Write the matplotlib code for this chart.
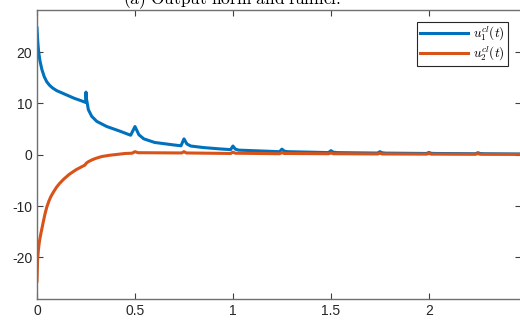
import matplotlib
matplotlib.use("Agg")
import matplotlib.pyplot as plt

plt.rcParams["mathtext.fontset"] = "cm"

# values
t1 = [0, 0.004, 0.008, 0.015, 0.025, 0.037, 0.05, 0.065, 0.08, 0.1, 0.13, 0.16, 0.19, 0.22,
      0.248, 0.25, 0.252, 0.262, 0.279, 0.305,
      0.356, 0.423, 0.478, 0.5, 0.52, 0.545, 0.6, 0.7, 0.735, 0.75, 0.765, 0.785,
      0.85, 0.93, 0.988, 1.0, 1.012, 1.03, 1.1, 1.238, 1.25, 1.262, 1.28, 1.4, 1.488, 1.5, 1.512,
      1.53, 1.738, 1.75, 1.762, 1.78, 1.988, 2.0, 2.012, 2.03, 2.238, 2.25, 2.262, 2.28, 2.47]
u1 = [24.7, 22.0, 20.2, 18.3, 16.6, 15.2, 14.2, 13.5, 13.0, 12.5, 12.0, 11.5, 11.0, 10.6,
      10.2, 12.2, 11.0, 8.8, 7.5, 6.5,
      5.5, 4.6, 3.8, 5.5, 3.9, 3.1, 2.4, 1.9, 1.75, 3.1, 2.1, 1.7,
      1.4, 1.15, 1.0, 1.7, 1.1, 0.9, 0.8, 0.6, 1.1, 0.7, 0.6, 0.5, 0.42, 0.8, 0.5,
      0.42, 0.33, 0.6, 0.38, 0.32, 0.25, 0.45, 0.28, 0.25, 0.2, 0.4, 0.24, 0.2, 0.15]

t2 = [0, 0.003, 0.007, 0.011, 0.015, 0.02, 0.025, 0.033, 0.041, 0.05, 0.06, 0.07, 0.085, 0.1,
      0.115, 0.135, 0.165, 0.2, 0.245, 0.25, 0.26, 0.28, 0.3, 0.33, 0.37,
      0.45, 0.485, 0.5, 0.515, 0.738, 0.75, 0.762, 0.988, 1.0, 1.012, 1.238, 1.25, 1.262, 1.488,
      1.5, 1.512, 1.738, 1.75, 1.762, 1.988, 2.0, 2.012, 2.238, 2.25, 2.262, 2.47]
u2 = [-24.6, -20.5, -18.6, -17.3, -16.3, -15.3, -14.4, -12.9, -11.5, -10.2, -9.1, -8.2, -7.2, -6.3,
      -5.6, -4.8, -3.8, -2.9, -2.0, -1.7, -1.4, -1.0, -0.7, -0.35, -0.1,
      0.25, 0.3, 0.6, 0.4, 0.35, 0.6, 0.35, 0.25, 0.5, 0.3, 0.2, 0.4, 0.25, 0.2,
      0.35, 0.2, 0.15, 0.3, 0.15, 0.12, 0.25, 0.12, 0.1, 0.22, 0.1, 0.08]

xticks = [0, 0.5, 1, 1.5, 2]
yticks = [-20, -10, 0, 10, 20]

fig = plt.figure(figsize=(5.2, 3.26), dpi=100)
ax = fig.add_axes([37/520, 1 - 299/326, 484/520, 289/326])

ax.plot(t1, u1, color="#0072BD", lw=2.2, label=r"$u_1^{cl}(t)$")
ax.plot(t2, u2, color="#D95319", lw=2.2, label=r"$u_2^{cl}(t)$")

ax.set_xlim(0, 2.47)
ax.set_ylim(-28.1, 28.2)
ax.set_xticks(xticks)
ax.set_xticklabels([f"{v:g}" for v in xticks])
ax.set_yticks(yticks)
ax.set_yticklabels([f"{v:g}" for v in yticks])
ax.tick_params(direction="in", length=4, width=0.8, top=True, right=True,
               colors="#404040", labelcolor="#262626", labelsize=10)
for s in ax.spines.values():
    s.set_color("#707070")
    s.set_linewidth(1.0)
for lab in ax.get_xticklabels() + ax.get_yticklabels():
    lab.set_family("Liberation Sans")

leg = ax.legend(loc="upper right", bbox_to_anchor=((508 - 37) / 484, (299 - 22) / 289),
                borderaxespad=0, fontsize=9.5, handlelength=3.6, fancybox=False,
                framealpha=1, edgecolor="#262626", borderpad=0.25, labelspacing=0.1,
                handletextpad=0.4)
leg.get_frame().set_linewidth(0.8)

fig.text(232/520, 1 - 4/326, r"$\mathrm{(a)\ Output\ norm\ and\ funnel.}$",
         ha="center", va="baseline", fontsize=12.5)

fig.savefig("out.png", dpi=100)
